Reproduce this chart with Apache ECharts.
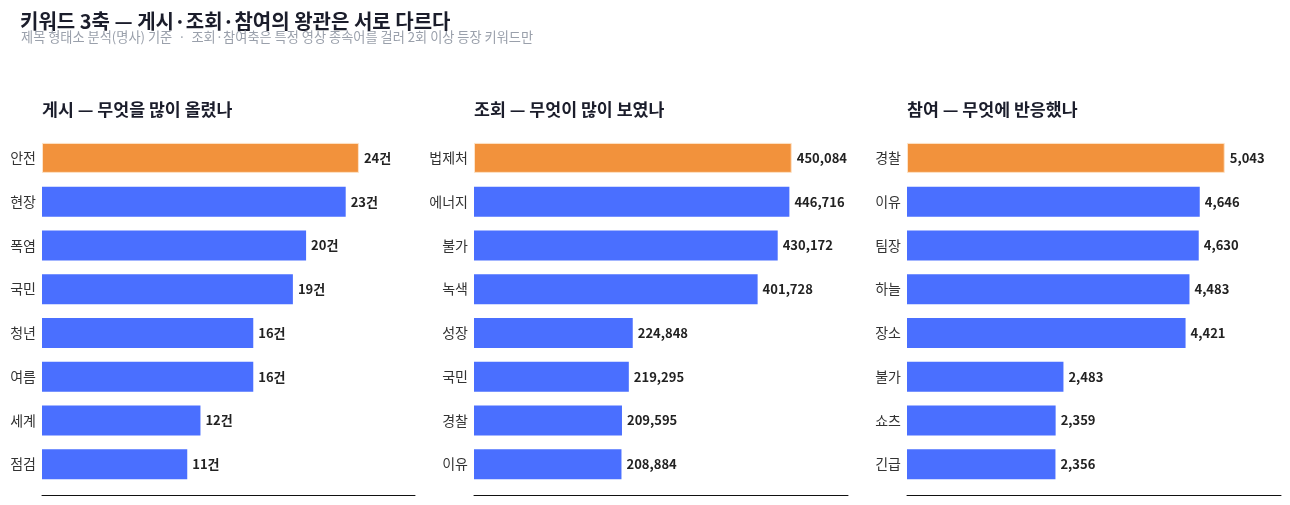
<!DOCTYPE html>
<html>
<head>
<meta charset="utf-8">
<script src="https://cdn.jsdelivr.net/npm/echarts@6/dist/echarts.min.js"></script>
<style>
  html, body { margin: 0; padding: 0; background: #fff; }
  #chart { width: 1290px; height: 505px; }
</style>
</head>
<body>
<div id="chart"></div>
<script>
// 게시 — 게시 건수
const postCats = ["안전", "현장", "폭염", "국민", "청년", "여름", "세계", "점검"];
const postVals = [24, 23, 20, 19, 16, 16, 12, 11];

// 조회 — 조회수 합계
const viewCats = ["법제처", "에너지", "불가", "녹색", "성장", "국민", "경찰", "이유"];
const viewVals = [450084, 446716, 430172, 401728, 224848, 219295, 209595, 208884];

// 참여 — 반응 합계
const engCats = ["경찰", "이유", "팀장", "하늘", "장소", "불가", "쇼츠", "긴급"];
const engVals = [5043, 4646, 4630, 4483, 4421, 2483, 2359, 2356];

const panelTitles = ["게시 — 무엇을 많이 올렸나", "조회 — 무엇이 많이 보였나", "참여 — 무엇에 반응했나"];

const FONT = "'Noto Sans CJK KR', 'Noto Sans', sans-serif";
const ORANGE = "#F2923C";
const BLUE = "#4A6FFF";

const panels = [
  { cats: postCats, vals: postVals, fmt: v => v + "건", left: 42, width: 373 },
  { cats: viewCats, vals: viewVals, fmt: v => v.toLocaleString("en-US"), left: 474, width: 374 },
  { cats: engCats, vals: engVals, fmt: v => v.toLocaleString("en-US"), left: 907, width: 374 },
];

const myChart = echarts.init(document.getElementById("chart"));

const option = {
  backgroundColor: "#fff",
  animation: false,
  title: [
    {
      text: "키워드 3축 — 게시·조회·참여의 왕관은 서로 다르다",
      left: 15, top: 6,
      textStyle: { fontFamily: FONT, fontSize: 20, fontWeight: "bold", color: "#1b1d2b" },
    },
    {
      text: "제목 형태소 분석(명사) 기준  ·  조회·참여축은 특정 영상 종속어를 걸러 2회 이상 등장 키워드만",
      left: 16, top: 25,
      textStyle: { fontFamily: FONT, fontSize: 13.2, fontWeight: "normal", color: "#9aa0ab" },
    },
  ].concat(panels.map((p, i) => ({
    text: panelTitles[i],
    left: p.left - 5, top: 96,
    textStyle: { fontFamily: FONT, fontSize: 17.3, fontWeight: "bold", color: "#1b1d2b" },
  }))),
  grid: panels.map(p => ({ left: p.left, width: p.width, top: 136, height: 350 })),
  xAxis: panels.map((p, i) => ({
    type: "value",
    gridIndex: i,
    min: 0,
    max: Math.max(...p.vals) * 1.177,
    offset: 9,
    axisLine: { show: true, lineStyle: { color: "#111", width: 1 } },
    axisTick: { show: false },
    axisLabel: { show: false },
    splitLine: { show: false },
  })),
  yAxis: panels.map((p, i) => ({
    type: "category",
    gridIndex: i,
    inverse: true,
    data: p.cats,
    axisLine: { show: false },
    axisTick: { show: false },
    axisLabel: { fontFamily: FONT, fontSize: 14, color: "#333", margin: 6 },
  })),
  series: panels.map((p, i) => ({
    type: "bar",
    xAxisIndex: i,
    yAxisIndex: i,
    barWidth: 30,
    data: p.vals.map((v, j) => ({
      value: v,
      itemStyle: j === 0
        ? { color: ORANGE, borderColor: "#fde3c8", borderWidth: 1 }
        : { color: BLUE },
    })),
    label: {
      show: true,
      position: "right",
      distance: 5,
      fontFamily: FONT,
      fontSize: 13,
      fontWeight: "bold",
      color: "#222",
      formatter: d => p.fmt(d.value),
    },
  })),
};

myChart.setOption(option);
</script>
</body>
</html>
